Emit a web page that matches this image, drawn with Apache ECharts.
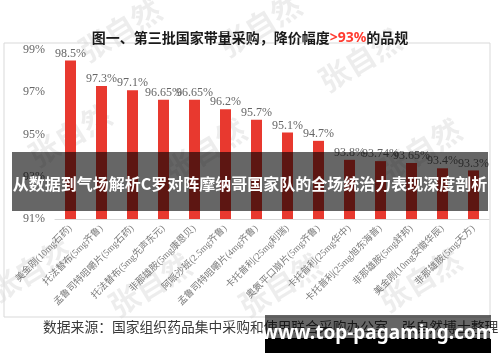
<!DOCTYPE html>
<html>
<head>
<meta charset="utf-8">
<script src="https://cdn.jsdelivr.net/npm/echarts@6/dist/echarts.min.js"></script>
<style>html,body{margin:0;padding:0;background:#fff}#c{width:500px;height:362px}</style>
</head>
<body>
<div id="c"></div>
<script>
const categories = [
  '美金刚(10mg石药)', '托法替布(5mg齐鲁)', '孟鲁司特咀嚼片(5mg石药)', '托法替布(5mg先声东元)',
  '非那雄胺(5mg康恩贝)', '阿哌沙班(2.5mg齐鲁)', '孟鲁司特咀嚼片(4mg齐鲁)', '卡托普利(25mg利瑞)',
  '奥氮平口崩片(5mg齐鲁)', '卡托普利(25mg华中)', '卡托普利(25mg旭东海普)', '非那雄胺(5mg舒邦)',
  '美金刚(10mg安徽华辰)', '非那雄胺(5mg天方)'
];
const values = [98.5, 97.3, 97.1, 96.65, 96.65, 96.2, 95.7, 95.1, 94.7, 93.8, 93.74, 93.65, 93.4, 93.3];
const yMin = 91, yMax = 99, yLabelStep = 2;
const titleParts = ['图一、第三批国家带量采购，降价幅度', '>93%', '的品规'];
const bannerText = '从数据到气场解析C罗对阵摩纳哥国家队的全场统治力表现深度剖析';
const sourceText = '数据来源：国家组织药品集中采购和使用联合采购办公室，张自然博士整理';
const siteText = 'www.top-pagaming.com';
const watermarks = [[70,135],[205,150],[360,60],[120,30],[260,25],[420,150],[30,270],[150,285],[280,285],[420,280]];

const serif = "'Liberation Serif','Noto Sans CJK SC',serif";
const chart = echarts.init(document.getElementById('c'));
const wm = watermarks.map(p => ({
  type: 'text', x: p[0], y: p[1], rotation: 0.55, z: 0,
  style: { text: '张自然', fill: 'rgba(0,0,0,0.07)', font: 'bold 30px "Noto Sans CJK SC"', align: 'center', verticalAlign: 'middle' }
}));
chart.setOption({
  animation: false,
  title: {
    text: '{a|' + titleParts[0] + '}{b|' + titleParts[1] + '}{a|' + titleParts[2] + '}',
    left: 'center', top: 26,
    textStyle: {
      rich: {
        a: { fontSize: 14, fontWeight: 'bold', color: '#1a1a1a', fontFamily: 'Noto Sans CJK SC' },
        b: { fontSize: 14, fontWeight: 'bold', color: '#ff3b30', fontFamily: 'Noto Sans' }
      }
    }
  },
  grid: { left: 55, right: 11, top: 50, bottom: 143 },
  xAxis: {
    type: 'category', data: categories,
    axisLine: { lineStyle: { color: '#d9d9d9', width: 1 } },
    axisTick: { show: false },
    axisLabel: { interval: 0, rotate: 45, fontSize: 9.5, color: '#7a7a7a', fontFamily: serif, margin: 8 }
  },
  yAxis: {
    type: 'value', min: yMin, max: yMax, interval: 1,
    axisLine: { show: false }, axisTick: { show: false },
    splitLine: { show: false },
    axisLabel: {
      color: '#666', fontSize: 12, fontFamily: serif, margin: 10,
      formatter: v => ((v - yMin) % yLabelStep === 0 ? v + '%' : '')
    }
  },
  series: [{
    type: 'bar', data: values, barWidth: 11,
    itemStyle: { color: '#e8392f' },
    label: { show: true, position: 'top', distance: 1, color: '#666', fontSize: 12, fontFamily: serif, formatter: p => p.value + '%' }
  }],
  graphic: wm.concat([
    { type: 'rect', shape: { x: 4, y: 43, width: 486, height: 274 }, style: { fill: 'none', stroke: '#d9d9d9', lineWidth: 1 }, z: 1 },
    { type: 'text', x: 43, y: 327, z: 5, style: { text: sourceText, fill: '#3a3a3a', font: '13.8px "Noto Sans CJK SC"', verticalAlign: 'middle' } },
    { type: 'rect', shape: { x: 12, y: 152, width: 476, height: 59 }, style: { fill: 'rgba(0,0,0,0.6)' }, z: 50 },
    { type: 'text', x: 250, y: 184, z: 51, style: { text: bannerText, fill: '#fff', font: 'bold 16px "Noto Sans CJK SC"', align: 'center', verticalAlign: 'middle' } },
    { type: 'rect', shape: { x: 265, y: 315, width: 226, height: 23 }, style: { fill: 'rgba(0,0,0,0.6)' }, z: 50 },
    { type: 'rect', shape: { x: 265, y: 338, width: 226, height: 15 }, style: { fill: '#000' }, z: 50 },
    { type: 'text', x: 378, y: 334, z: 51, style: { text: siteText, fill: '#fff', font: 'bold 19px "Noto Sans"', align: 'center', verticalAlign: 'middle' } }
  ])
});
</script>
</body>
</html>
